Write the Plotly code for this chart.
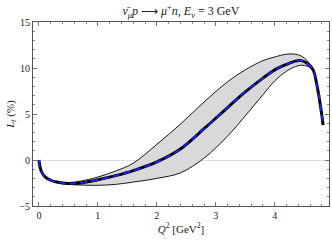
import plotly.graph_objects as go

Q2 = [0, 0.02, 0.05, 0.1, 0.2, 0.3, 0.5, 0.7, 1.0, 1.3, 1.6, 2.0, 2.4, 2.8, 3.2, 3.5,
      3.8, 4.0, 4.2, 4.35, 4.45, 4.55, 4.65, 4.71, 4.76, 4.80, 4.82]
central = [0, -0.8, -1.35, -1.8, -2.2, -2.4, -2.55, -2.5, -2.15, -1.7, -1.15, -0.2, 1.2,
           3.4, 5.7, 7.4, 8.9, 9.8, 10.4, 10.75, 10.8, 10.5, 9.8, 8.3, 6.5, 4.8, 3.8]
upper = [0, -0.8, -1.35, -1.78, -2.15, -2.35, -2.45, -2.3, -1.85, -1.2, -0.35, 1.7, 3.9,
         6.3, 8.5, 9.8, 10.8, 11.2, 11.5, 11.5, 11.3, 10.8, 9.8, 8.3, 6.5, 4.8, 3.8]
lower = [0, -0.8, -1.38, -1.85, -2.25, -2.45, -2.65, -2.72, -2.75, -2.65, -2.4, -2.0, -1.4,
         0.2, 2.6, 4.8, 7.1, 8.6, 9.65, 10.15, 10.3, 10.2, 9.8, 8.3, 6.5, 4.8, 3.8]

x_ticks = [0, 1, 2, 3, 4]
y_ticks = [-5, 0, 5, 10, 15]
y_tick_labels = ["\u22125", "0", "5", "10", "15"]

FONT = "Liberation Serif"

fig = go.Figure()
fig.add_trace(go.Scatter(
    x=Q2 + Q2[::-1], y=upper + lower[::-1], fill="toself",
    fillcolor="#d9d9d9", line=dict(color="rgba(0,0,0,0)", width=0),
    mode="lines", line_shape="spline", hoverinfo="skip", showlegend=False))
for band in (upper, lower):
    fig.add_trace(go.Scatter(x=Q2, y=band, mode="lines", line_shape="spline",
                             line=dict(color="black", width=0.9), showlegend=False))
fig.add_trace(go.Scatter(x=Q2, y=central, mode="lines", line_shape="spline",
                         line=dict(color="black", width=3), showlegend=False))
fig.add_trace(go.Scatter(x=Q2, y=central, mode="lines", line_shape="spline",
                         line=dict(color="#1f1fff", width=1.8, dash="7px,4px"),
                         showlegend=False))

axis_common = dict(showline=True, linecolor="#555555", linewidth=1, mirror="ticks",
                   ticks="inside", ticklen=4, tickcolor="#777777", showgrid=False,
                   automargin=False,
                   tickfont=dict(family=FONT, size=10, color="#222"))
fig.update_xaxes(range=[-0.1, 4.92], tickvals=x_ticks, zeroline=False,
                 minor=dict(dtick=0.2, ticks="inside", ticklen=2, tickcolor="#888888"),
                 title=dict(text="<i>Q</i><sup>2</sup> [GeV<sup>2</sup>]",
                            font=dict(family=FONT, size=11, color="#222"), standoff=4),
                 **axis_common)
fig.update_yaxes(range=[-5, 15], tickvals=y_ticks, ticktext=y_tick_labels,
                 zeroline=True, zerolinecolor="#dddddd", zerolinewidth=1,
                 minor=dict(dtick=1, ticks="inside", ticklen=2, tickcolor="#888888"),
                 title=dict(text="<i>L</i><sub><i>t</i></sub> (%)",
                            font=dict(family=FONT, size=11, color="#222"), standoff=2),
                 **axis_common)
fig.update_layout(
    width=332, height=240, margin=dict(l=33, r=3, t=22, b=34),
    plot_bgcolor="white", paper_bgcolor="white",
    title=dict(text="<i>\u03bd\u0304</i><sub><i>\u03bc</i></sub><i>p</i> \u27f6 <i>\u03bc</i><sup>+</sup><i>n</i>, <i>E</i><sub><i>\u03bd</i></sub> = 3 GeV",
               x=0.545, xanchor="center", y=0.955, yanchor="middle",
               font=dict(family=FONT, size=12, color="#222")),
)
fig.write_html("out.html", config={"displayModeBar": False},
               post_script="document.body.style.margin='0';")
